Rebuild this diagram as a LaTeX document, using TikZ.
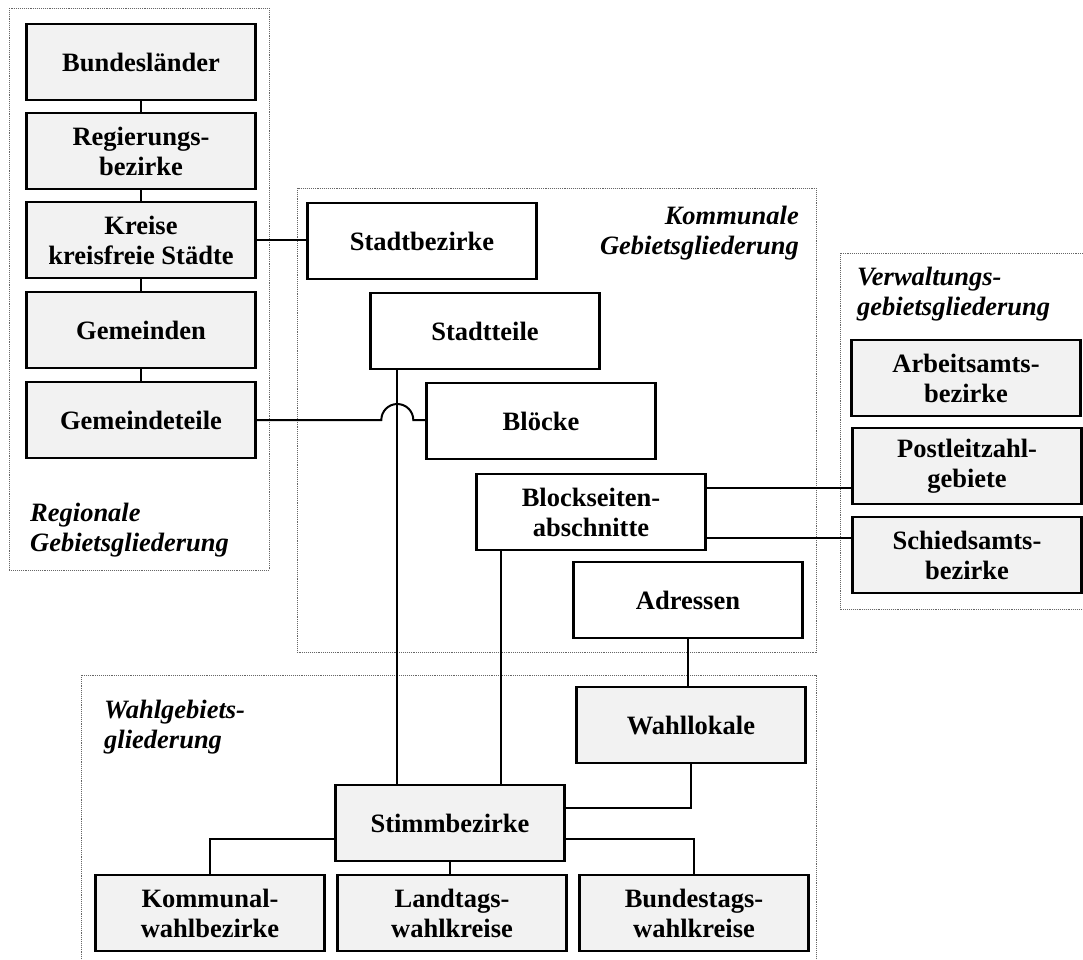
\documentclass[tikz,border=0pt]{standalone}
\usepackage{fontspec}
\setmainfont{Liberation Serif}
\definecolor{boxgray}{HTML}{F2F2F2}
\tikzset{
	unit/.style={draw, line width=2.4pt, fill=boxgray, minimum width=229pt, minimum height=76pt, inner sep=0pt, align=center, font=\bfseries\fontsize{26.5}{30}\selectfont},
	city/.style={unit, fill=white},
	link/.style={line width=2pt},
	frame/.style={densely dotted, line width=0.9pt, gray!80!black},
	title/.style={inner sep=0pt, font=\bfseries\itshape\fontsize{26.5}{30}\selectfont}
}
\begin{document}
\begin{tikzpicture}[x=1pt,y=-1pt]
		\useasboundingbox (0,0) rectangle (1083,959);
		\draw[frame] (9,8) rectangle (269,570);
		\draw[frame] (297,188) rectangle (816,652);
		\draw[frame] (1083,253) -| (840,609) -- (1083,609);
		\draw[frame] (81,959) |- (816,675) -- (816,959);
		\node[title, anchor=west, align=left] (regtitle) at (30,530) {Regionale\\Gebietsgliederung};
		\node[title, anchor=east, align=right] (komtitle) at (799,233) {Kommunale\\Gebietsgliederung};
		\node[title, anchor=west, align=left] (vertitle) at (857,294) {Verwaltungs-\\gebietsgliederung};
		\node[title, anchor=west, align=left] (wahltitle) at (104,727) {Wahlgebiets-\\gliederung};
		\node[unit] (bund) at (141,62) {Bundesländer};
		\node[unit] (regb) at (141,151) {Regierungs-\\bezirke};
		\node[unit] (kreise) at (141,240) {Kreise\\kreisfreie Städte};
		\node[unit] (gem) at (141,330) {Gemeinden};
		\node[unit] (gemt) at (141,420) {Gemeindeteile};
		\node[city] (stadtb) at (422,241) {Stadtbezirke};
		\node[city] (stadtt) at (485,331) {Stadtteile};
		\node[city] (bloecke) at (541,421) {Blöcke};
		\node[city] (blocks) at (591,512) {Blockseiten-\\abschnitte};
		\node[city] (adr) at (688,600) {Adressen};
		\node[unit] (arb) at (966,378) {Arbeitsamts-\\bezirke};
		\node[unit] (plz) at (967,466) {Postleitzahl-\\gebiete};
		\node[unit] (schied) at (967,555) {Schiedsamts-\\bezirke};
		\node[unit] (wahll) at (691,725) {Wahllokale};
		\node[unit] (stimm) at (450,823) {Stimmbezirke};
		\node[unit] (kwb) at (210,913) {Kommunal-\\wahlbezirke};
		\node[unit] (lwk) at (452,913) {Landtags-\\wahlkreise};
		\node[unit] (bwk) at (694,913) {Bundestags-\\wahlkreise};
		\foreach \a/\b in {bund/regb,regb/kreise,kreise/gem,gem/gemt}
			\draw[link] (\a.south) -- (\b.north);
		\draw[link] (kreise.east) -- (kreise.east -| stadtb.west);
		\coordinate (drop) at ([xshift=28pt]stadtt.south west);
		\coordinate (bsa) at ([xshift=26pt]blocks.south west);
		\draw[link] (drop) -- (drop |- stimm.north);
		\draw[link] (gemt.east) -- ([xshift=-16pt]drop |- gemt.east) arc[start angle=180, end angle=0, radius=16pt] -- (bloecke.west |- gemt.east);
		\draw[link] ([yshift=-15pt]blocks.north east) -- ([yshift=-15pt]blocks.north east -| plz.west);
		\draw[link] ([yshift=13pt]blocks.south east) -- ([yshift=13pt]blocks.south east -| schied.west);
		\draw[link] (bsa) -- (bsa |- stimm.north);
		\draw[link] (adr.south) -- (adr.south |- wahll.north);
		\draw[link] (wahll.south) |- ([yshift=15pt]stimm.east);
		\draw[link] ([yshift=-16pt]stimm.west) -| (kwb.north);
		\draw[link] (stimm.south) -- (stimm.south |- lwk.north);
		\draw[link] ([yshift=-16pt]stimm.east) -| (bwk.north);
	\end{tikzpicture}
\end{document}
